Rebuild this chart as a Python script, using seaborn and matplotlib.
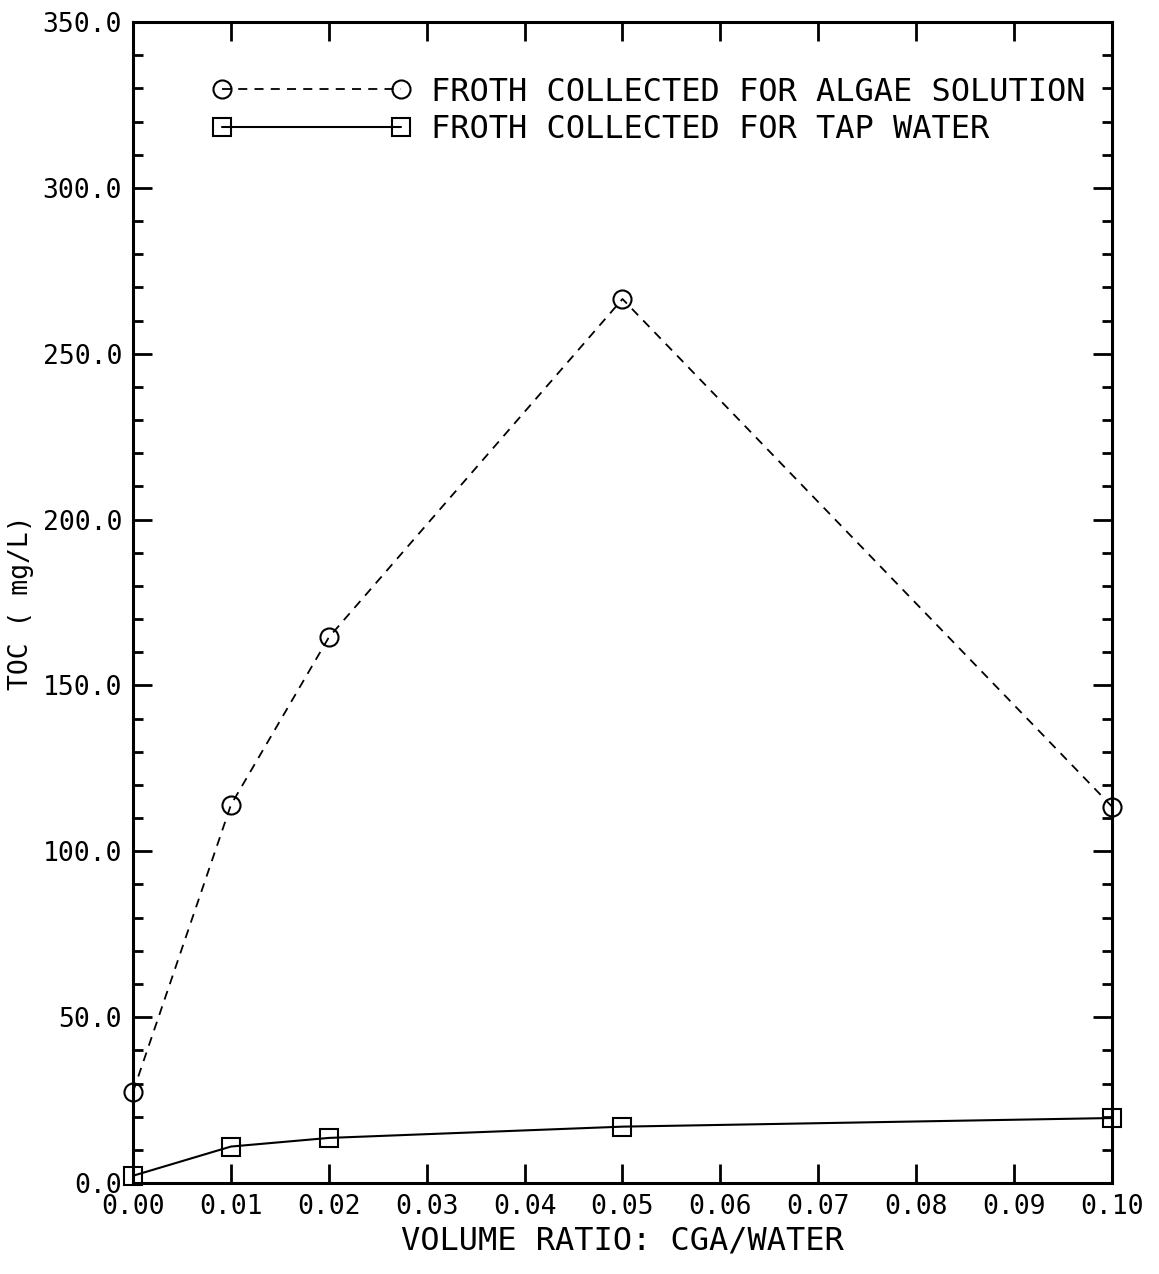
import numpy as np
import pandas as pd
import matplotlib
matplotlib.use("Agg")
import matplotlib.pyplot as plt
import seaborn as sns
from matplotlib.ticker import MultipleLocator, FormatStrFormatter

# Data
volume_ratio = [0.00, 0.01, 0.02, 0.05, 0.10]
toc_algae = [27.5, 114.0, 164.5, 266.5, 113.5]
toc_tap = [2.2, 11.0, 13.6, 17.0, 19.6]

algae_label = "FROTH COLLECTED FOR ALGAE SOLUTION"
tap_label = "FROTH COLLECTED FOR TAP WATER"

df = pd.DataFrame({
    "ratio": volume_ratio * 2,
    "toc": toc_algae + toc_tap,
    "series": [algae_label] * len(toc_algae) + [tap_label] * len(toc_tap),
})

sns.set_style("ticks")
plt.rcParams["font.family"] = ["DejaVu Sans Mono", "DejaVu Sans"]
plt.rcParams["text.color"] = "black"
plt.rcParams["axes.labelcolor"] = "black"

fig = plt.figure(figsize=(11.59, 12.74), dpi=100)
ax = fig.add_axes([0.1148, 0.0714, 0.8446, 0.9113])

sns.lineplot(data=df[df.series == algae_label], x="ratio", y="toc", ax=ax,
             color="black", linestyle=(0, (5, 4)), linewidth=1.3,
             marker="o", markersize=13, markerfacecolor="none",
             markeredgecolor="black", markeredgewidth=1.5,
             label=algae_label, clip_on=False)
sns.lineplot(data=df[df.series == tap_label], x="ratio", y="toc", ax=ax,
             color="black", linestyle="-", linewidth=1.5,
             marker="s", markersize=13, markerfacecolor="none",
             markeredgecolor="black", markeredgewidth=1.5,
             label=tap_label, clip_on=False)

ax.set_xlim(0, 0.10)
ax.set_ylim(0, 350)
ax.xaxis.set_major_locator(MultipleLocator(0.01))
ax.xaxis.set_major_formatter(FormatStrFormatter("%.2f"))
ax.yaxis.set_major_locator(MultipleLocator(50))
ax.yaxis.set_minor_locator(MultipleLocator(10))
ax.yaxis.set_major_formatter(FormatStrFormatter("%.1f"))

for s in ax.spines.values():
    s.set_visible(True)
    s.set_linewidth(2.2)
    s.set_color("black")
ax.tick_params(axis="both", which="major", direction="in", length=14, width=2,
               top=True, right=True, labelsize=19, pad=8, colors="black")
ax.tick_params(axis="y", which="minor", direction="in", length=7, width=2,
               left=True, right=True, colors="black")

ax.set_xlabel("VOLUME RATIO: CGA/WATER", fontsize=23, labelpad=4)
ax.set_ylabel("TOC ( mg/L)", fontsize=19, labelpad=6)

leg = ax.legend(loc="upper left", bbox_to_anchor=(0.081, 0.953), frameon=False,
                numpoints=2, handlelength=6.2, handletextpad=0.65,
                labelspacing=0.2, borderpad=0, borderaxespad=0,
                fontsize=23)

fig.savefig("out.png", dpi=100)
